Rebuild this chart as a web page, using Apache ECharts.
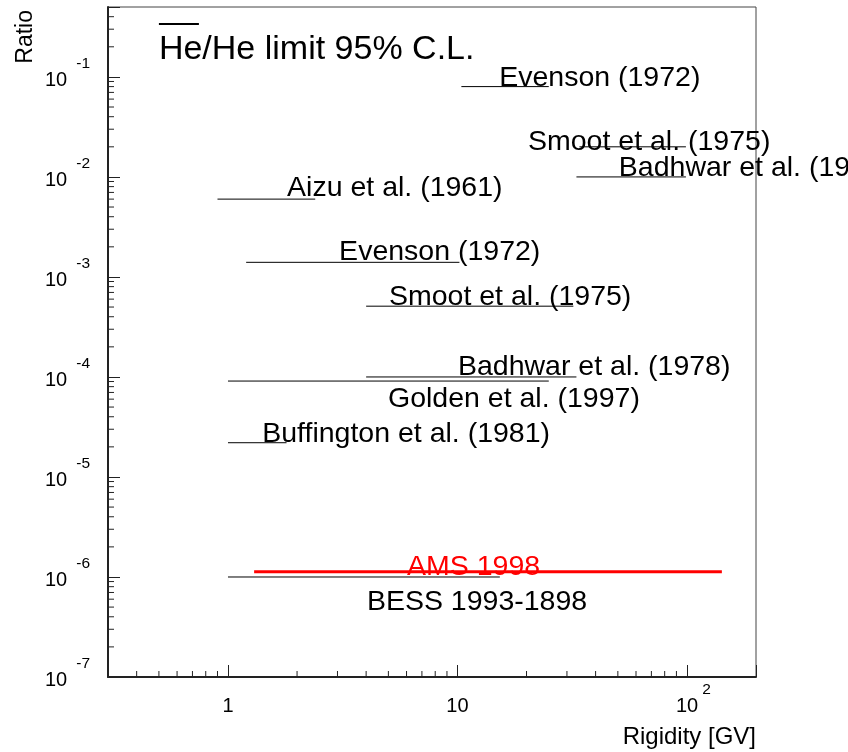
<!DOCTYPE html>
<html><head><meta charset="utf-8">
<script src="https://cdn.jsdelivr.net/npm/echarts@6/dist/echarts.min.js"></script>
<style>html,body{margin:0;padding:0;background:#fff}#c{width:848px;height:752px}</style>
</head><body><div id="c"></div>
<script>
// ---- data: antihelium/helium upper limits (95% C.L.) ----
const expNames = ['Evenson (1972)', 'Smoot et al. (1975)', 'Badhwar et al. (1978)', 'Aizu et al. (1961)',
  'Evenson (1972)', 'Smoot et al. (1975)', 'Badhwar et al. (1978)', 'Golden et al. (1997)',
  'Buffington et al. (1981)', 'BESS 1993-1898', 'AMS 1998'];
const rigidityLow  = [10.4, 34, 33, 0.9, 1.2, 4.0, 4.0, 1.0, 1.0, 1.0, 1.3];
const rigidityHigh = [25, 99, 99, 2.4, 10.2, 32, 33, 25, 1.8, 15.3, 142];
const ratioLimit   = [0.08, 0.02, 0.01, 0.006, 0.0014, 5.1e-4, 1.0e-4, 9.1e-5, 2.2e-5, 1.0e-6, 1.13e-6];
// text anchors (left edge, baseline) in data units
const labelRigidity = [15.2, 20.3, 50.5, 1.81, 3.05, 5.03, 10.05, 4.98, 1.41, 4.03, 6.03];
const labelRatio    = [0.0776, 0.0178, 0.0098, 0.0062, 0.00141, 5.0e-4, 1.0e-4, 4.8e-5, 2.15e-5, 4.5e-7, 1.0e-6];
const headerText = 'He/He limit 95% C.L.';
const headerPos = [0.5, 0.1445];
// axes
const xRange = [0.3, 200];
const yRange = [1e-7, 0.5];
const xTickValues = [1, 10, 100];
const xTickBase = ['1', '10', '10'];
const xTickExp = ['', '', '2'];
const yTickBase = '10';

const F = '"Liberation Sans", Arial, Helvetica, sans-serif';
const AMS = 10;
const FS = 28.5;

const xMinor = [], yMinor = [];
for (let e = -1; e <= 2; e++) for (let k = 2; k <= 9; k++) {
  const v = k * Math.pow(10, e);
  if (v > xRange[0] && v < xRange[1]) xMinor.push([v, yRange[0]]);
}
for (let e = -7; e <= -1; e++) for (let k = 2; k <= 9; k++) {
  const v = k * Math.pow(10, e);
  if (v > yRange[0] && v < yRange[1]) yMinor.push([xRange[0], v]);
}

const chart = echarts.init(document.getElementById('c'), null, {renderer: 'canvas'});
const series = [];
expNames.forEach((n, i) => {
  series.push({
    type: 'line', name: n + i, silent: true, symbol: 'none', animation: false,
    z: i === AMS ? 4 : 3,
    data: [[rigidityLow[i], ratioLimit[i]], [rigidityHigh[i], ratioLimit[i]]],
    lineStyle: {color: i === AMS ? '#ff0000' : '#000', width: i === AMS ? 3 : 1}
  });
});
series.push({
  type: 'custom', silent: true, clip: false, animation: false, z: 5,
  data: expNames.map((n, i) => [labelRigidity[i], labelRatio[i], i]),
  renderItem(params, api) {
    const i = api.value(2);
    const p = api.coord([api.value(0), api.value(1)]);
    return {type: 'text', x: p[0], y: p[1] - 0.34 * FS,
      style: {text: expNames[i], fontSize: FS, fontFamily: F, fill: i === AMS ? '#ff0000' : '#000',
        align: 'left', verticalAlign: 'middle'}};
  }
});
series.push({
  type: 'custom', silent: true, clip: false, animation: false, z: 5,
  data: [[headerPos[0], headerPos[1]]],
  renderItem(params, api) {
    const p = api.coord([api.value(0), api.value(1)]);
    const fs = 34;
    return {type: 'group', children: [
      {type: 'text', x: p[0], y: p[1] - 0.34 * fs,
        style: {text: headerText, fontSize: fs, fontFamily: F, fill: '#000', align: 'left', verticalAlign: 'middle'}},
      {type: 'line', shape: {x1: p[0], y1: p[1] - 37, x2: p[0] + 40, y2: p[1] - 37},
        style: {stroke: '#000', lineWidth: 2}}
    ]};
  }
});
series.push({
  type: 'custom', silent: true, clip: false, animation: false, z: 6,
  data: xMinor,
  renderItem(params, api) {
    const p = api.coord([api.value(0), api.value(1)]);
    return {type: 'line', shape: {x1: p[0], y1: p[1], x2: p[0], y2: p[1] - 6}, style: {stroke: '#222', lineWidth: 1}};
  }
});
series.push({
  type: 'custom', silent: true, clip: false, animation: false, z: 6,
  data: yMinor,
  renderItem(params, api) {
    const p = api.coord([api.value(0), api.value(1)]);
    return {type: 'line', shape: {x1: p[0], y1: p[1], x2: p[0] + 6, y2: p[1]}, style: {stroke: '#222', lineWidth: 1}};
  }
});

function near(a, b) { return Math.abs(a / b - 1) < 1e-6; }

chart.setOption({
  animation: false,
  backgroundColor: '#fff',
  grid: {left: 108, right: 92, top: 7, bottom: 75, show: true, borderColor: '#444', borderWidth: 1,
    outerBoundsMode: 'none', containLabel: false},
  xAxis: {
    type: 'log', logBase: 10, min: xRange[0], max: xRange[1],
    name: 'Rigidity [GV]', nameLocation: 'end', nameGap: 0,
    nameTextStyle: {fontSize: 24, fontFamily: F, color: '#000', align: 'right', verticalAlign: 'top', padding: [48, 0, 0, 0]},
    axisLine: {show: true, onZero: false, lineStyle: {color: '#222', width: 2}},
    axisTick: {show: true, inside: true, length: 12, lineStyle: {color: '#222', width: 1}},
    splitLine: {show: false}, minorTick: {show: false},
    axisLabel: {
      margin: 19, color: '#000', fontFamily: F,
      formatter: v => {
        const k = xTickValues.findIndex(t => near(v, t));
        if (k < 0) return '';
        if (!xTickExp[k]) return '{bp|' + xTickBase[k] + '}';
        return '{bl|' + xTickBase[k] + '}{sx|' + xTickExp[k] + '}';
      },
      rich: {
        bp: {fontSize: 20, lineHeight: 20, fontFamily: F, color: '#000', verticalAlign: 'bottom', padding: [14, 0, 0, 0]},
        bl: {fontSize: 20, lineHeight: 20, fontFamily: F, color: '#000', verticalAlign: 'bottom', padding: [0, 0, 0, 13]},
        sx: {fontSize: 15.5, lineHeight: 16, fontFamily: F, color: '#000', verticalAlign: 'bottom', padding: [0, 0, 18, 4]}
      }
    }
  },
  yAxis: {
    type: 'log', logBase: 10, min: yRange[0], max: yRange[1],
    axisLine: {show: true, onZero: false, lineStyle: {color: '#222', width: 2}},
    axisTick: {show: true, inside: true, length: 12, lineStyle: {color: '#222', width: 1}},
    splitLine: {show: false}, minorTick: {show: false},
    axisLabel: {
      margin: 18, color: '#000', fontFamily: F, padding: [7, 0, 0, 0],
      formatter: v => {
        const e = Math.round(Math.log10(v));
        if (!near(v, Math.pow(10, e))) return '';
        return '{b|' + yTickBase + '}{s|' + e + '}';
      },
      rich: {
        b: {fontSize: 20, lineHeight: 20, fontFamily: F, color: '#000', verticalAlign: 'bottom'},
        s: {fontSize: 15.5, lineHeight: 16, fontFamily: F, color: '#000', verticalAlign: 'bottom', padding: [0, 0, 19, 9]}
      }
    }
  },
  graphic: [{
    type: 'text', x: 26, y: 10, rotation: Math.PI / 2, silent: true,
    style: {text: 'Ratio', fontSize: 23, fontFamily: F, fill: '#000', align: 'right', verticalAlign: 'middle'}
  }],
  series: series
});
</script></body></html>
